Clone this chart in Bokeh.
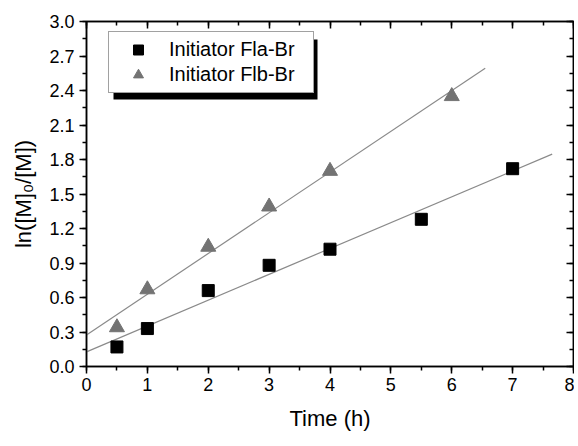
import numpy as np
from bokeh.plotting import figure
from bokeh.models import (LinearAxis, Range1d, BoxAnnotation, Legend, LegendItem,
                          SingleIntervalTicker, CustomJSTickFormatter)
from bokeh.embed import file_html
from bokeh.resources import INLINE

# ---- data ----
fla_time = [0.5, 1, 2, 3, 4, 5.5, 7]
fla_ln = [0.17, 0.33, 0.66, 0.88, 1.02, 1.28, 1.72]
flb_time = [0.5, 1, 2, 3, 4, 6]
flb_ln = [0.34, 0.67, 1.04, 1.39, 1.70, 2.35]
fla_fit_span = [0.0, 7.65]
flb_fit_span = [0.0, 6.55]
series_names = ["Initiator Fla-Br", "Initiator Flb-Br"]

FONT = "Liberation Sans"
X0, X1, Y0, Y1 = 0, 8, 0, 3.0
W, H = 574, 440
ML, MR, MT, MB = 86, 1, 21, 74
FW, FH = W - ML - MR, H - MT - MB

p = figure(width=W, height=H, output_backend="svg", toolbar_location=None,
           x_range=Range1d(X0, X1), y_range=Range1d(Y0, Y1),
           min_border_left=ML, min_border_right=MR, min_border_top=MT,
           min_border_bottom=MB, x_axis_label="Time (h)",
           y_axis_label="ln([M]\u2080/[M])")
p.xgrid.visible = False
p.ygrid.visible = False
p.outline_line_color = "black"
p.outline_line_width = 1.5
p.background_fill_color = "white"
p.border_fill_color = "white"

p.xaxis.ticker = SingleIntervalTicker(interval=1, num_minor_ticks=2)
p.yaxis.ticker = SingleIntervalTicker(interval=0.3, num_minor_ticks=2)
p.yaxis.formatter = CustomJSTickFormatter(code="return tick.toFixed(1);")

for ax in (p.xaxis[0], p.yaxis[0]):
    ax.axis_line_width = 1.5
    ax.major_tick_line_width = 1.5
    ax.minor_tick_line_width = 1.5
    ax.major_tick_out = 7
    ax.major_tick_in = 0
    ax.minor_tick_out = 4
    ax.minor_tick_in = 0
    ax.major_label_text_font = FONT
    ax.major_label_text_font_size = "18px"
    ax.major_label_text_color = "black"
    ax.axis_label_text_font = FONT
    ax.axis_label_text_font_size = "22px"
    ax.axis_label_text_font_style = "normal"
    ax.axis_label_text_color = "black"
p.xaxis.major_label_standoff = 4
p.yaxis.major_label_standoff = 5
p.xaxis.axis_label_standoff = 12
p.yaxis.axis_label_standoff = 10

# inward ticks on top and right
for side, tick in (("above", SingleIntervalTicker(interval=1, num_minor_ticks=2)),
                   ("right", SingleIntervalTicker(interval=0.3, num_minor_ticks=2))):
    ax = LinearAxis(ticker=tick, formatter=CustomJSTickFormatter(code="return '';"))
    ax.major_label_standoff = 0
    ax.axis_line_width = 1.5
    ax.major_tick_line_width = 1.5
    ax.minor_tick_line_width = 1.5
    ax.major_tick_in = 7
    ax.major_tick_out = 0
    ax.minor_tick_in = 4
    ax.minor_tick_out = 0
    p.add_layout(ax, side)

# fitted lines
for tx, ty, span in ((fla_time, fla_ln, fla_fit_span), (flb_time, flb_ln, flb_fit_span)):
    k, b = np.polyfit(tx, ty, 1)
    xs = np.array(span)
    p.line(xs, k * xs + b, line_color="#8a8a8a", line_width=1.2)

sq = p.scatter(fla_time, fla_ln, marker="square", size=12, fill_color="black",
               line_color="black")
tri = p.scatter(flb_time, flb_ln, marker="triangle", size=15, fill_color="#737373",
                line_color="#737373")

# legend box geometry (pixels from frame left/top)
LX, LY, LW, LH = 22, 12, 204, 60
SHX, SHY = 5, 6
px2x = lambda px: X0 + px * (X1 - X0) / FW
py2y = lambda py: Y1 - py * (Y1 - Y0) / FH
shadow = BoxAnnotation(left=px2x(LX + SHX), right=px2x(LX + LW + SHX),
                       top=py2y(LY + SHY), bottom=py2y(LY + LH + SHY),
                       fill_color="black", fill_alpha=1.0, line_color=None,
                       level="underlay")
p.add_layout(shadow)

legend = Legend(items=[LegendItem(label=series_names[0], renderers=[sq]),
                       LegendItem(label=series_names[1], renderers=[tri])],
                location=(LX, FH - LY - LH), orientation="vertical",
                padding=5, margin=0, spacing=0, glyph_width=48, glyph_height=25,
                label_standoff=7, label_width=139, label_height=25,
                label_text_font=FONT, label_text_font_size="20px",
                label_text_color="black",
                border_line_color="#444444", border_line_width=1,
                background_fill_color="white", background_fill_alpha=1.0)
p.add_layout(legend)

open("out.html", "w").write(file_html(p, INLINE))
